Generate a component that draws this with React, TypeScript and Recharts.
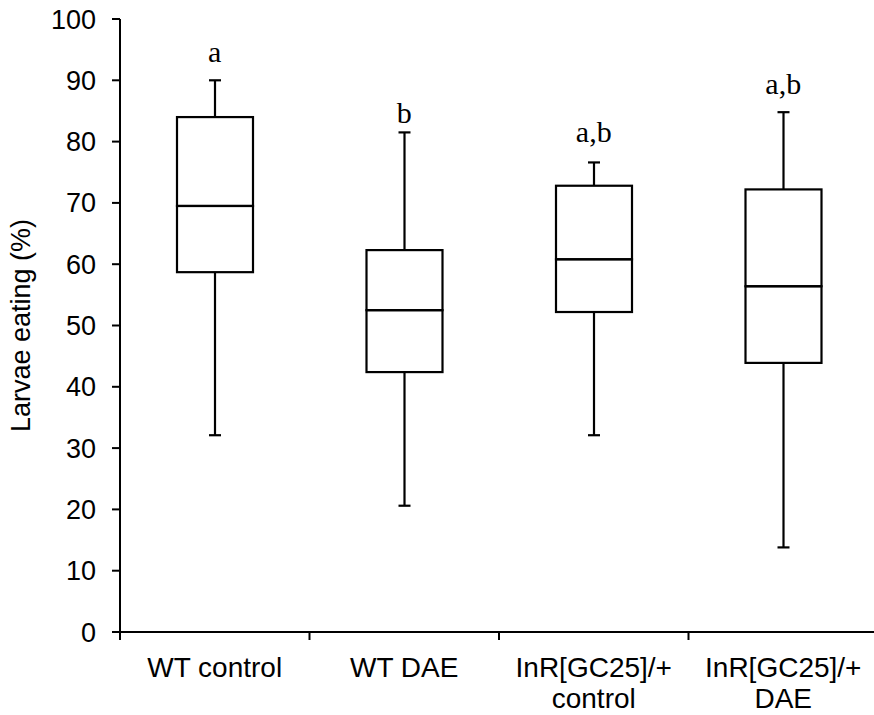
import { ComposedChart, Bar, Line, XAxis, YAxis, LabelList } from 'recharts'

const categories = ['WT control', 'WT DAE', 'InR[GC25]/+\ncontrol', 'InR[GC25]/+\nDAE']
const mins = [32.1, 20.6, 32.1, 13.8]
const q1s = [58.7, 42.4, 52.2, 43.9]
const medians = [69.5, 52.5, 60.8, 56.4]
const q3s = [84.0, 62.3, 72.8, 72.2]
const maxs = [90.0, 81.5, 76.6, 84.8]
const letters = ['a', 'b', 'a,b', 'a,b']
const letterY = [93.0, 83.0, 80.0, 87.7]
const yTicks = [0, 10, 20, 30, 40, 50, 60, 70, 80, 90, 100]

const data = categories.map((name, i) => ({
  name,
  base: mins[i],
  lowWhisker: q1s[i] - mins[i],
  lowBox: medians[i] - q1s[i],
  highBox: q3s[i] - medians[i],
  highWhisker: maxs[i] - q3s[i],
  letter: letters[i],
  letterY: letterY[i],
}))

const sans = '"Liberation Sans", Arial, sans-serif'
const serif = '"Liberation Serif", "Times New Roman", serif'
const CAP = 6

const LowWhisker = (props: any) => {
  const { x, y, width, height } = props
  const cx = x + width / 2
  return (
    <g stroke="#000" strokeWidth={2.2}>
      <line x1={cx} x2={cx} y1={y} y2={y + height} />
      <line x1={cx - CAP} x2={cx + CAP} y1={y + height} y2={y + height} />
    </g>
  )
}

const HighWhisker = (props: any) => {
  const { x, y, width, height } = props
  const cx = x + width / 2
  return (
    <g stroke="#000" strokeWidth={2.2}>
      <line x1={cx} x2={cx} y1={y} y2={y + height} />
      <line x1={cx - CAP} x2={cx + CAP} y1={y} y2={y} />
    </g>
  )
}

const BoxPart = (props: any) => {
  const { x, y, width, height } = props
  return <rect x={x} y={y} width={width} height={height} fill="none" stroke="#000" strokeWidth={2.2} />
}

const CategoryTick = (props: any) => {
  const { x, y, payload } = props
  const half = payload.offset || 94.75
  const left = x - half
  const lines = String(payload.value).split('\n')
  return (
    <g>
      <line x1={left} x2={left} y1={y - 8} y2={y} stroke="#000" strokeWidth={2} />
      <text x={x} y={y + 37} textAnchor="middle" fontSize={28} fontFamily={sans} fill="#000">
        {lines.map((l, i) => (
          <tspan key={i} x={x} dy={i === 0 ? 0 : 31}>{l}</tspan>
        ))}
      </text>
    </g>
  )
}

const LetterLabel = (props: any) => {
  const { x, y, value } = props
  return (
    <text x={x} y={y} textAnchor="middle" fontSize={30} fontFamily={serif} fill="#000">
      {value}
    </text>
  )
}

const YTitle = (props: any) => {
  const { viewBox } = props
  const cx = 30
  const cy = viewBox.y + viewBox.height / 2
  return (
    <text x={cx} y={cy} transform={`rotate(-90, ${cx}, ${cy})`} textAnchor="middle" fontSize={27} fontFamily={sans} fill="#000">
      Larvae eating (%)
    </text>
  )
}

export default function App() {
  return (
    <div style={{ position: 'absolute', left: 0, top: 0, width: 874, height: 715, overflow: 'hidden', background: '#fff' }}>
      <ComposedChart width={880} height={715} data={data} margin={{ top: 19, right: 2, bottom: 0, left: 0 }}>
        <XAxis
          dataKey="name"
          height={83}
          interval={0}
          tickLine={false}
          tickSize={8}
          tickMargin={0}
          axisLine={{ stroke: '#000', strokeWidth: 2 }}
          tick={<CategoryTick />}
        />
        <YAxis
          width={120}
          domain={[0, 100]}
          ticks={yTicks}
          interval={0}
          tickSize={8}
          tickMargin={16}
          axisLine={{ stroke: '#000', strokeWidth: 2 }}
          tickLine={{ stroke: '#000', strokeWidth: 2 }}
          tick={{ fill: '#000', fontSize: 27, fontFamily: sans }}
          label={<YTitle />}
        />
        <Bar dataKey="base" stackId="box" barSize={76} fill="none" isAnimationActive={false} />
        <Bar dataKey="lowWhisker" stackId="box" barSize={76} shape={<LowWhisker />} isAnimationActive={false} />
        <Bar dataKey="lowBox" stackId="box" barSize={76} shape={<BoxPart />} isAnimationActive={false} />
        <Bar dataKey="highBox" stackId="box" barSize={76} shape={<BoxPart />} isAnimationActive={false} />
        <Bar dataKey="highWhisker" stackId="box" barSize={76} shape={<HighWhisker />} isAnimationActive={false} />
        <Line dataKey="letterY" stroke="none" dot={false} activeDot={false} legendType="none" isAnimationActive={false}>
          <LabelList dataKey="letter" content={<LetterLabel />} />
        </Line>
      </ComposedChart>
    </div>
  )
}
